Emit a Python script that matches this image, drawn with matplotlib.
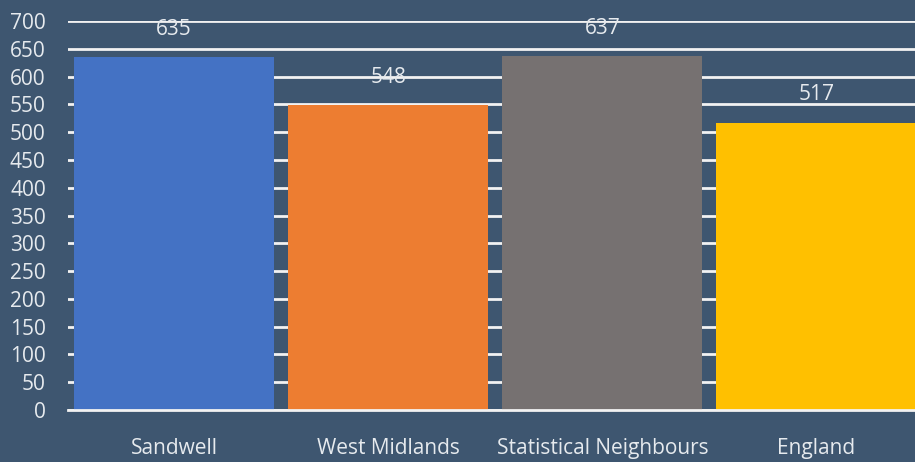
import numpy as np
import matplotlib
matplotlib.use('Agg')
import matplotlib.pyplot as plt

categories = ['Sandwell', 'West Midlands', 'Statistical Neighbours', 'England']
values = [635, 548, 637, 517]
colors = ['#4472C4', '#ED7D31', '#767171', '#FFC000']

bg = '#3E5670'
txt = '#E6EAEE'

plt.rcParams['font.family'] = ['Open Sans', 'DejaVu Sans']

fig = plt.figure(figsize=(9.15, 4.62), dpi=100, facecolor=bg)
ax = fig.add_axes([68/915, 52/462, 1 - 68/915, (410-21)/462])
ax.set_facecolor(bg)

x = np.arange(len(categories))
ax.bar(x, values, width=0.935, color=colors, zorder=3)
for xi, v in zip(x, values):
    ax.text(xi, v + 50, str(v), ha='center', va='center', color=txt, fontsize=15, zorder=4)

ax.set_ylim(0, 700)
ax.set_xlim(-0.495, 3.46)
ax.set_yticks(np.arange(0, 701, 50))
ax.yaxis.grid(True, color='#F2F2F2', linewidth=2, zorder=1)
ax.set_axisbelow(True)
ax.set_xticks(x)
ax.set_xticklabels(categories)
ax.tick_params(axis='y', length=0, pad=16, labelsize=15, labelcolor=txt)
ax.tick_params(axis='x', length=0, pad=20, labelsize=15, labelcolor=txt)
for s in ['top', 'right', 'left']:
    ax.spines[s].set_visible(False)
ax.spines['bottom'].set_color('#F2F2F2')
ax.spines['bottom'].set_linewidth(2)
ax.spines['bottom'].set_zorder(5)

fig.savefig('out.png', dpi=100, facecolor=bg)
